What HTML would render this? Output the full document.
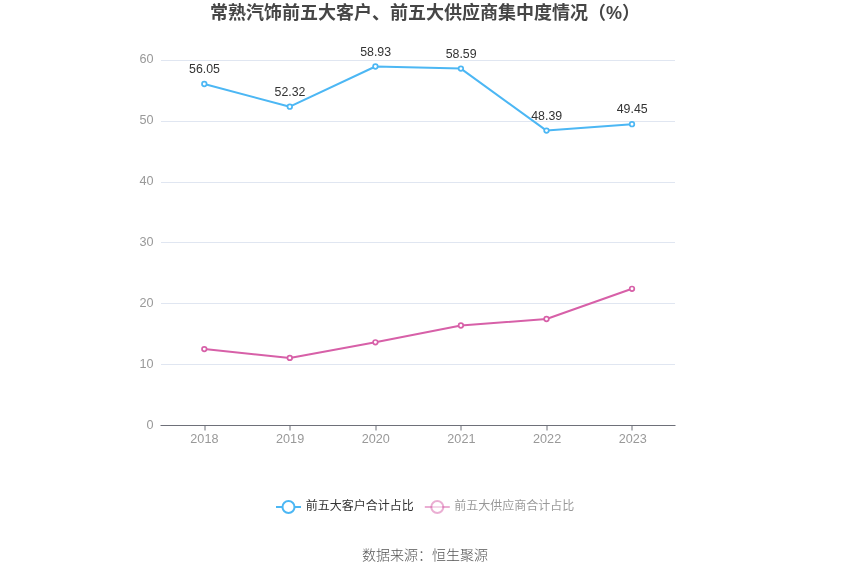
<!DOCTYPE html>
<html lang="zh-CN"><head><meta charset="utf-8"><title>chart</title>
<style>html,body{margin:0;padding:0;background:#fff}body{width:850px;height:575px;overflow:hidden}svg{display:block;will-change:transform}text{font-family:"Liberation Sans","Noto Sans CJK SC",sans-serif}</style></head><body>
<svg width="850" height="575" viewBox="0 0 850 575">
<rect width="850" height="575" fill="#fff"/>
<text x="425" y="19" text-anchor="middle" font-size="18" font-weight="bold" fill="#464646">常熟汽饰前五大客户、前五大供应商集中度情况（%）</text>
<text transform="translate(153.6,429.2) scale(1.055,1)" text-anchor="end" font-size="12" fill="#999">0</text>
<line x1="161" y1="364.5" x2="675" y2="364.5" stroke="#e0e6f1" stroke-width="1"/>
<text transform="translate(153.6,367.5) scale(1.055,1)" text-anchor="end" font-size="12" fill="#999">10</text>
<line x1="161" y1="303.5" x2="675" y2="303.5" stroke="#e0e6f1" stroke-width="1"/>
<text transform="translate(153.6,306.6) scale(1.055,1)" text-anchor="end" font-size="12" fill="#999">20</text>
<line x1="161" y1="242.5" x2="675" y2="242.5" stroke="#e0e6f1" stroke-width="1"/>
<text transform="translate(153.6,245.8) scale(1.055,1)" text-anchor="end" font-size="12" fill="#999">30</text>
<line x1="161" y1="182.5" x2="675" y2="182.5" stroke="#e0e6f1" stroke-width="1"/>
<text transform="translate(153.6,185.0) scale(1.055,1)" text-anchor="end" font-size="12" fill="#999">40</text>
<line x1="161" y1="121.5" x2="675" y2="121.5" stroke="#e0e6f1" stroke-width="1"/>
<text transform="translate(153.6,124.1) scale(1.055,1)" text-anchor="end" font-size="12" fill="#999">50</text>
<line x1="161" y1="60.5" x2="675" y2="60.5" stroke="#e0e6f1" stroke-width="1"/>
<text transform="translate(153.6,63.3) scale(1.055,1)" text-anchor="end" font-size="12" fill="#999">60</text>
<line x1="160.5" y1="425.5" x2="675.5" y2="425.5" stroke="#6e7079" stroke-width="1"/>
<line x1="205" y1="425.5" x2="205" y2="430.5" stroke="#6e7079" stroke-width="1"/>
<text transform="translate(204.4,443) scale(1.055,1)" text-anchor="middle" font-size="12" fill="#999">2018</text>
<line x1="290" y1="425.5" x2="290" y2="430.5" stroke="#6e7079" stroke-width="1"/>
<text transform="translate(290.1,443) scale(1.055,1)" text-anchor="middle" font-size="12" fill="#999">2019</text>
<line x1="376" y1="425.5" x2="376" y2="430.5" stroke="#6e7079" stroke-width="1"/>
<text transform="translate(375.8,443) scale(1.055,1)" text-anchor="middle" font-size="12" fill="#999">2020</text>
<line x1="461" y1="425.5" x2="461" y2="430.5" stroke="#6e7079" stroke-width="1"/>
<text transform="translate(461.4,443) scale(1.055,1)" text-anchor="middle" font-size="12" fill="#999">2021</text>
<line x1="547" y1="425.5" x2="547" y2="430.5" stroke="#6e7079" stroke-width="1"/>
<text transform="translate(547.1,443) scale(1.055,1)" text-anchor="middle" font-size="12" fill="#999">2022</text>
<line x1="632" y1="425.5" x2="632" y2="430.5" stroke="#6e7079" stroke-width="1"/>
<text transform="translate(632.8,443) scale(1.055,1)" text-anchor="middle" font-size="12" fill="#999">2023</text>
<polyline fill="none" stroke="#4cb7f4" stroke-width="2" stroke-linejoin="bevel" points="204.3,84.0 289.8,106.7 375.4,66.5 460.9,68.6 546.5,130.6 632.0,124.2"/>
<circle cx="204.3" cy="84.0" r="2.3" fill="#fff" stroke="#4cb7f4" stroke-width="1.7"/>
<circle cx="289.8" cy="106.7" r="2.3" fill="#fff" stroke="#4cb7f4" stroke-width="1.7"/>
<circle cx="375.4" cy="66.5" r="2.3" fill="#fff" stroke="#4cb7f4" stroke-width="1.7"/>
<circle cx="460.9" cy="68.6" r="2.3" fill="#fff" stroke="#4cb7f4" stroke-width="1.7"/>
<circle cx="546.5" cy="130.6" r="2.3" fill="#fff" stroke="#4cb7f4" stroke-width="1.7"/>
<circle cx="632.0" cy="124.2" r="2.3" fill="#fff" stroke="#4cb7f4" stroke-width="1.7"/>
<polyline fill="none" stroke="#d760a8" stroke-width="2" stroke-linejoin="bevel" points="204.3,349.1 289.8,357.9 375.4,342.3 460.9,325.5 546.5,319.0 632.0,288.8"/>
<circle cx="204.3" cy="349.1" r="2.3" fill="#fff" stroke="#d760a8" stroke-width="1.7"/>
<circle cx="289.8" cy="357.9" r="2.3" fill="#fff" stroke="#d760a8" stroke-width="1.7"/>
<circle cx="375.4" cy="342.3" r="2.3" fill="#fff" stroke="#d760a8" stroke-width="1.7"/>
<circle cx="460.9" cy="325.5" r="2.3" fill="#fff" stroke="#d760a8" stroke-width="1.7"/>
<circle cx="546.5" cy="319.0" r="2.3" fill="#fff" stroke="#d760a8" stroke-width="1.7"/>
<circle cx="632.0" cy="288.8" r="2.3" fill="#fff" stroke="#d760a8" stroke-width="1.7"/>
<text transform="translate(204.5,73.1) scale(1.03,1)" text-anchor="middle" font-size="12" fill="#333">56.05</text>
<text transform="translate(290.0,95.8) scale(1.03,1)" text-anchor="middle" font-size="12" fill="#333">52.32</text>
<text transform="translate(375.6,55.6) scale(1.03,1)" text-anchor="middle" font-size="12" fill="#333">58.93</text>
<text transform="translate(461.1,57.7) scale(1.03,1)" text-anchor="middle" font-size="12" fill="#333">58.59</text>
<text transform="translate(546.7,119.7) scale(1.03,1)" text-anchor="middle" font-size="12" fill="#333">48.39</text>
<text transform="translate(632.2,113.3) scale(1.03,1)" text-anchor="middle" font-size="12" fill="#333">49.45</text>
<line x1="276" y1="507" x2="301" y2="507" stroke="#4cb7f4" stroke-width="2"/>
<circle cx="288.5" cy="507" r="6" fill="#fff" stroke="#4cb7f4" stroke-width="2"/>
<text x="305.7" y="510.3" font-size="12" fill="#333">前五大客户合计占比</text>
<line x1="424.8" y1="507" x2="449.8" y2="507" stroke="#d760a8" stroke-width="2" opacity="0.5"/>
<circle cx="437.3" cy="507" r="6" fill="#fff" stroke="#d760a8" stroke-width="2" opacity="0.5"/>
<text x="454.3" y="510.3" font-size="12" fill="#333" opacity="0.5">前五大供应商合计占比</text>
<text x="425" y="560" text-anchor="middle" font-size="14" font-weight="300" fill="#555">数据来源：恒生聚源</text>
</svg></body></html>
